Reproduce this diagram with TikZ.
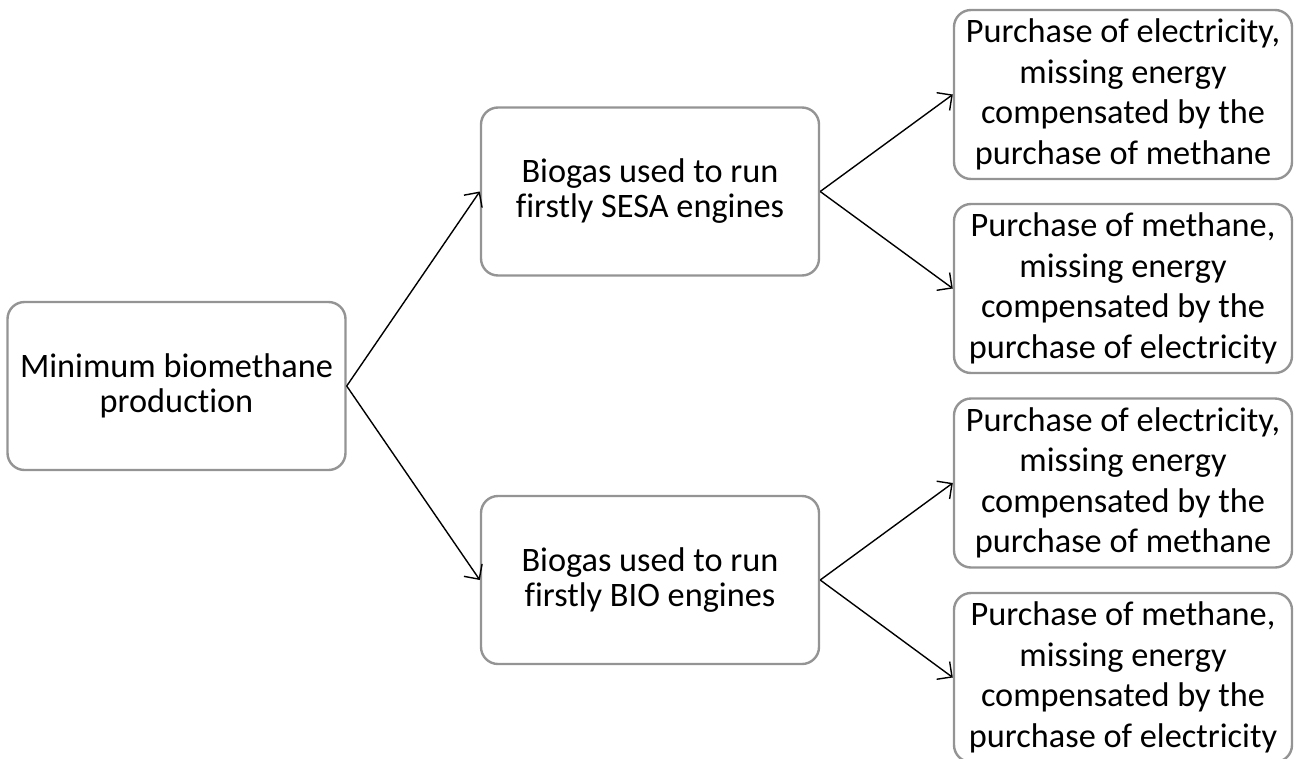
\documentclass[tikz,border=0pt]{standalone}
\usepackage{fontspec}
\setmainfont[Ligatures=NoCommon]{Carlito}
\usetikzlibrary{arrows.meta}

\begin{document}
\begin{tikzpicture}[x=1pt,y=-1pt,
  box/.style={draw=black!42, line width=2.4pt, rounded corners=17pt, fill=white,
    minimum width=338pt, minimum height=168pt, align=center, inner sep=0pt,
    text=black},
  twoline/.style={box, font=\fontsize{34.3}{35}\selectfont},
  fourline/.style={box, minimum height=169pt, font=\fontsize{34.3}{40.5}\selectfont},
  link/.style={draw=black, line width=1.4pt, -{Straight Barb[length=11pt,width=22pt,line width=1.4pt]}}]
  \useasboundingbox (0,0) rectangle (1296,758);

  % root
  \node[twoline] (root) at (176.5,386) {Minimum biomethane\\production};

  % second level
  \node[twoline] (sesa) at (650,191.5) {Biogas used to run\\firstly SESA engines};
  \node[twoline] (bio)  at (650,580)   {Biogas used to run\\firstly BIO engines};

  % leaves
  \node[fourline] (s1) at (1123,94.5)  {Purchase of electricity,\\missing energy\\compensated by the\\purchase of methane};
  \node[fourline] (s2) at (1123,288.5) {Purchase of methane,\\missing energy\\compensated by the\\purchase of electricity};
  \node[fourline] (b1) at (1123,483)   {Purchase of electricity,\\missing energy\\compensated by the\\purchase of methane};
  \node[fourline] (b2) at (1123,677.5) {Purchase of methane,\\missing energy\\compensated by the\\purchase of electricity};

  % connectors
  \draw[link] (root.east) -- (sesa.west);
  \draw[link] (root.east) -- (bio.west);
  \draw[link] (sesa.east) -- (s1.west);
  \draw[link] (sesa.east) -- (s2.west);
  \draw[link] (bio.east) -- (b1.west);
  \draw[link] (bio.east) -- (b2.west);
\end{tikzpicture}
\end{document}
